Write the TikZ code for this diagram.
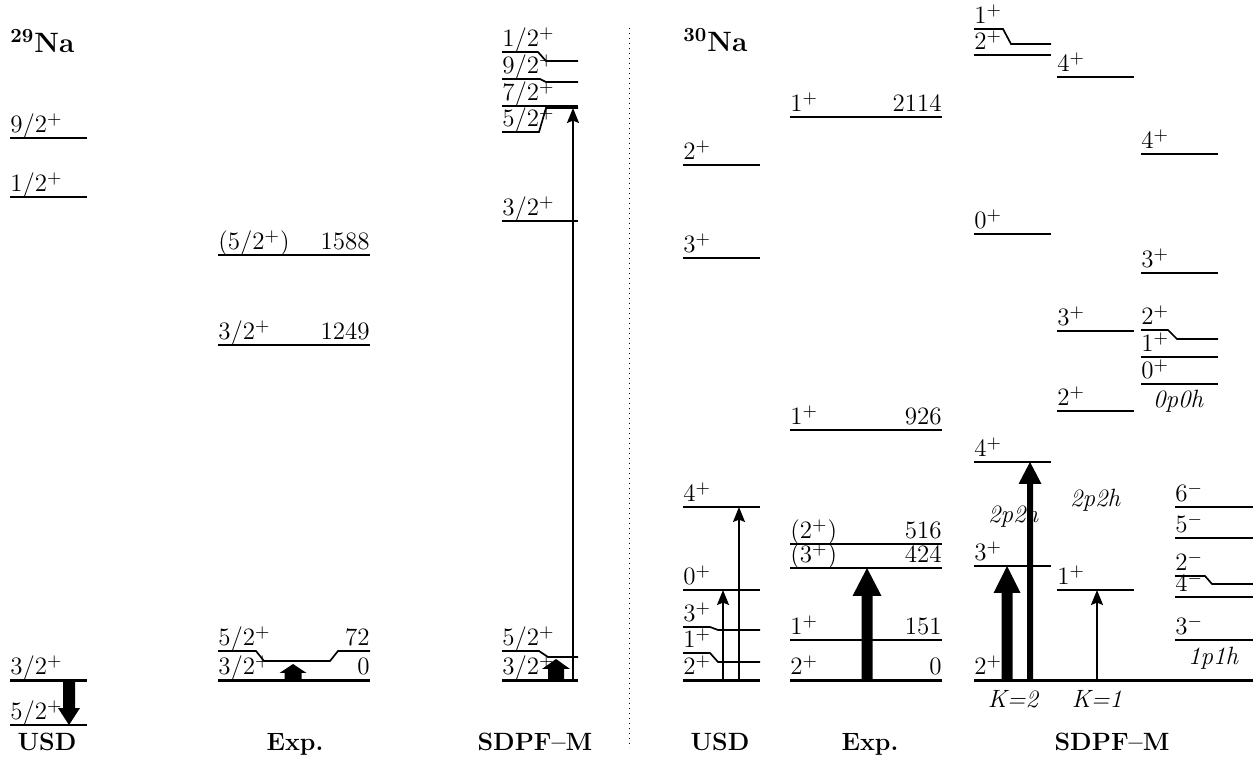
\documentclass[tikz,border=0pt]{standalone}
\usepackage{tikz}
\usetikzlibrary{arrows.meta,calc}
\newcommand{\lvlfont}{\fontsize{12.5}{14}\selectfont}
\tikzset{
  lvl/.style={line width=0.85pt},
  gnd/.style={line width=1.5pt},
  jlab/.style={anchor=base west, inner sep=0pt, yshift=2.6pt, font=\lvlfont},
  elab/.style={anchor=base east, inner sep=0pt, yshift=2.6pt, font=\lvlfont},
  nucl/.style={anchor=base west, inner sep=0pt, font=\fontsize{14}{16}\selectfont\bfseries},
  model/.style={anchor=base, inner sep=0pt, font=\fontsize{12.5}{14}\selectfont\bfseries},
  conf/.style={anchor=base, inner sep=0pt, font=\lvlfont\itshape},
  thinarr/.style={line width=0.85pt, -{Stealth[length=7.5pt,width=6pt,inset=1.2pt]}},
  divider/.style={line width=0.5pt, dotted}
}
% level: [style]{name}{x1}{x2}{y}{spin}
\newcommand{\lvl}[6][lvl]{%
  \draw[#1] (#3,#5) coordinate (#2-l) -- (#4,#5) coordinate (#2-r);
  \node[jlab] (#2) at (#2-l) {#6};}
% bent level: {name}{x1}{xa}{xb}{x2}{y left}{y right}{spin}
\newcommand{\blvl}[8]{%
  \draw[lvl] (#2,#6) coordinate (#1-l) -- (#3,#6) -- (#4,#7) -- (#5,#7) coordinate (#1-r);
  \node[jlab] (#1) at (#1-l) {#8};}
% fat arrow: {foot}{tip}{shaft width}{head width}{head length}
\newcommand{\fatarrow}[5]{%
  \path ($(#2)!#5!(#1)$) coordinate (hb);
  \fill ([xshift=-#3/2]#1) -- ([xshift=-#3/2]hb) -- ([xshift=-#4/2]hb) -- (#2)
    -- ([xshift=#4/2]hb) -- ([xshift=#3/2]hb) -- ([xshift=#3/2]#1) -- cycle;}

\begin{document}
\begin{tikzpicture}[x=0.5pt, y=-0.5pt]
  \useasboundingbox (0,0) rectangle (1253,758);

  \node[nucl] (na29) at (10,53) {$^{\mathbf{29}}$Na};
  \node[nucl] (na30) at (683,52) {$^{\mathbf{30}}$Na};
  \draw[divider] (629,28) coordinate (dv1) -- (629,748) coordinate (dv2);

  % 29Na USD
  \lvl{u29a}{10}{87}{138}{9/2$^+$}
  \lvl{u29b}{10}{87}{197}{1/2$^+$}
  \lvl[gnd]{u29c}{10}{87}{680}{3/2$^+$}
  \lvl{u29d}{10}{87}{725}{5/2$^+$}
  \coordinate (u29f) at (69,680);
  \coordinate (u29t) at (69,725);
  \fatarrow{u29f}{u29t}{6pt}{11pt}{8.5pt}
  \node[model] (m1) at (47,750) {USD};

  % 29Na Exp
  \lvl{x29a}{218}{370}{255}{(5/2$^+$)}
  \node[elab] (x29a-e) at (x29a-r) {1588};
  \lvl{x29b}{218}{370}{345}{3/2$^+$}
  \node[elab] (x29b-e) at (x29b-r) {1249};
  \draw[lvl] (218,651) coordinate (x29c-l) -- (256,651) -- (264,661) -- (330,661)
    -- (338,651) -- (370,651) coordinate (x29c-r);
  \node[jlab] (x29c) at (x29c-l) {5/2$^+$};
  \node[elab] (x29c-e) at (x29c-r) {72};
  \lvl[gnd]{x29d}{218}{370}{680}{3/2$^+$}
  \node[elab] (x29d-e) at (x29d-r) {0};
  \coordinate (x29f) at (293,680);
  \coordinate (x29t) at (293,664);
  \fatarrow{x29f}{x29t}{8.5pt}{13.5pt}{4.5pt}
  \node[model] (m2) at (295,750) {Exp.};

  % 29Na SDPF-M
  \blvl{s29a}{502}{538}{546}{578}{52}{61}{1/2$^+$}
  \blvl{s29b}{502}{540}{546}{578}{79}{82}{9/2$^+$}
  \lvl{s29c}{502}{578}{106}{7/2$^+$}
  \blvl{s29d}{502}{539}{546}{578}{132}{108}{5/2$^+$}
  \lvl{s29e}{502}{578}{221}{3/2$^+$}
  \blvl{s29f}{502}{539}{548}{578}{651}{657}{5/2$^+$}
  \lvl[gnd]{s29g}{502}{578}{680}{3/2$^+$}
  \coordinate (s29p) at (556,680);
  \coordinate (s29q) at (556,659);
  \fatarrow{s29p}{s29q}{8pt}{14pt}{5pt}
  \coordinate (s29r) at (573,680);
  \coordinate (s29s) at (573,108);
  \draw[thinarr] (s29r) -- (s29s);
  \node[model] (m3) at (535,750) {SDPF\textendash M};

  % 30Na USD
  \lvl{u30a}{683}{760}{165}{2$^+$}
  \lvl{u30b}{683}{760}{258}{3$^+$}
  \lvl{u30c}{683}{760}{507}{4$^+$}
  \lvl{u30d}{683}{760}{590}{0$^+$}
  \blvl{u30e}{683}{710}{718}{760}{627}{630}{3$^+$}
  \blvl{u30f}{683}{710}{718}{760}{653}{662}{1$^+$}
  \lvl[gnd]{u30g}{683}{760}{680}{2$^+$}
  \coordinate (u30p) at (723,680);
  \coordinate (u30q) at (723,590);
  \coordinate (u30r) at (739,680);
  \coordinate (u30s) at (739,507);
  \draw[thinarr] (u30p) -- (u30q);
  \draw[thinarr] (u30r) -- (u30s);
  \node[model] (m4) at (720,750) {USD};

  % 30Na Exp
  \lvl{x30a}{790}{942}{117}{1$^+$}
  \node[elab] (x30a-e) at (x30a-r) {2114};
  \lvl{x30b}{790}{942}{430}{1$^+$}
  \node[elab] (x30b-e) at (x30b-r) {926};
  \lvl{x30c}{790}{942}{544}{(2$^+$)}
  \node[elab] (x30c-e) at (x30c-r) {516};
  \lvl{x30d}{790}{942}{568}{(3$^+$)}
  \node[elab] (x30d-e) at (x30d-r) {424};
  \lvl{x30e}{790}{942}{640}{1$^+$}
  \node[elab] (x30e-e) at (x30e-r) {151};
  \lvl[gnd]{x30f}{790}{942}{680}{2$^+$}
  \node[elab] (x30f-e) at (x30f-r) {0};
  \coordinate (x30p) at (867,680);
  \coordinate (x30q) at (867,568);
  \fatarrow{x30p}{x30q}{5.5pt}{14.5pt}{14pt}
  \node[model] (m5) at (870,750) {Exp.};

  % 30Na SDPF-M
  \blvl{s30a}{974}{1003}{1011}{1051}{29}{44}{1$^+$}
  \lvl{s30b}{974}{1051}{55}{2$^+$}
  \lvl{s30c}{974}{1051}{234}{0$^+$}
  \lvl{s30d}{974}{1051}{462}{4$^+$}
  \lvl{s30e}{974}{1051}{566}{3$^+$}
  \lvl[gnd]{s30f}{974}{1253}{680}{2$^+$}
  \lvl{s30g}{1057}{1134}{77}{4$^+$}
  \lvl{s30h}{1057}{1134}{331}{3$^+$}
  \lvl{s30i}{1057}{1134}{411}{2$^+$}
  \lvl{s30j}{1057}{1134}{590}{1$^+$}
  \lvl{s30k}{1141}{1218}{154}{4$^+$}
  \lvl{s30l}{1141}{1218}{273}{3$^+$}
  \blvl{s30m}{1141}{1168}{1177}{1218}{330}{339}{2$^+$}
  \lvl{s30n}{1141}{1218}{357}{1$^+$}
  \lvl{s30o}{1141}{1218}{384}{0$^+$}
  \lvl{s30q}{1175}{1253}{507}{6$^-$}
  \lvl{s30r}{1175}{1253}{538}{5$^-$}
  \blvl{s30s}{1175}{1205}{1212}{1253}{576}{584}{2$^-$}
  \lvl{s30t}{1175}{1253}{597}{4$^-$}
  \lvl{s30u}{1175}{1253}{640}{3$^-$}
  \node[conf] (c0) at (1178,408) {0p0h};
  \node[conf] (c1) at (1013,523) {2p2h};
  \node[conf] (c2) at (1095,507) {2p2h};
  \node[conf] (c3) at (1213,665) {1p1h};
  \node[conf] (k2) at (1013,707) {K=2};
  \node[conf] (k1) at (1097,707) {K=1};
  \coordinate (s30p1) at (1007,680);
  \coordinate (s30q1) at (1007,566);
  \coordinate (s30p2) at (1030,680);
  \coordinate (s30q2) at (1030,462);
  \coordinate (s30p3) at (1097,680);
  \coordinate (s30q3) at (1097,590);
  \fatarrow{s30p1}{s30q1}{5.5pt}{13.5pt}{13.5pt}
  \fatarrow{s30p2}{s30q2}{3pt}{11.5pt}{11pt}
  \draw[thinarr] (s30p3) -- (s30q3);
  \node[model] (m6) at (1112,750) {SDPF\textendash M};
\end{tikzpicture}
\end{document}
